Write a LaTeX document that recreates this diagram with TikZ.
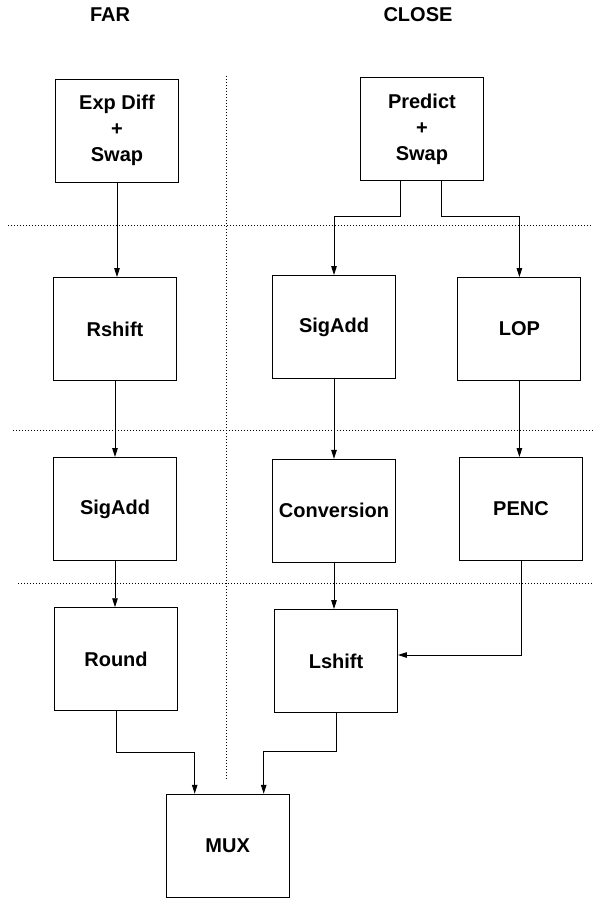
\documentclass[tikz,border=0pt]{standalone}
\usepackage{fontspec}
\setmainfont{Liberation Sans}
\usetikzlibrary{arrows.meta}
\begin{document}
\begin{tikzpicture}[
    x=1pt,y=-1pt,
    font=\fontsize{20}{26}\selectfont\bfseries,
    blk/.style={draw,line width=.9pt,minimum width=123pt,minimum height=103pt,inner sep=0pt,align=center},
    sepline/.style={line width=.8pt,dash pattern=on 1pt off 2pt},
    arr/.style={line width=.9pt,-{Triangle[length=9pt,width=5.5pt]}}
  ]
    \path[use as bounding box] (0,0) rectangle (593,898);
    \node (far) at (110,15) {FAR};
    \node (close) at (418,15) {CLOSE};
    \draw[sepline] (226,76)--(226,780);
    \draw[sepline] (8,225)--(593,225);
    \draw[sepline] (13,430.7)--(593,430.7);
    \draw[sepline] (18,583.3)--(593,583.3);
    \node[blk] (expd) at (117,130.8) {Exp Diff\\+\\Swap};
    \node[blk] (pred) at (421.9,129) {Predict\\+\\Swap};
    \node[blk] (rsh) at (115,329) {Rshift};
    \node[blk] (sadc) at (334,327) {SigAdd};
    \node[blk] (lop) at (519.4,329) {LOP};
    \node[blk] (sadf) at (115,509) {SigAdd};
    \node[blk] (conv) at (334,510.8) {Conversion};
    \node[blk] (penc) at (521,509) {PENC};
    \node[blk] (rnd) at (116,659.2) {Round};
    \node[blk] (lsh) at (336,661) {Lshift};
    \node[blk] (mux) at (227.7,845.7) {MUX};
    \draw[arr] (expd.south)--(expd.south|-rsh.north);
    \draw[arr] ([xshift=-21pt]pred.south)--++(0,35)-|(sadc.north);
    \draw[arr] ([xshift=20pt]pred.south)--++(0,35)-|(lop.north);
    \draw[arr] (rsh.south)--(rsh.south|-sadf.north);
    \draw[arr] (sadc.south)--(sadc.south|-conv.north);
    \draw[arr] (lop.south)--(lop.south|-penc.north);
    \draw[arr] (sadf.south)--(sadf.south|-rnd.north);
    \draw[arr] (conv.south)--(conv.south|-lsh.north);
    \draw[arr] (penc.south)|-([yshift=6pt]lsh.east);
    \draw[arr] (rnd.south)--++(0,41)-|([xshift=-33pt]mux.north);
    \draw[arr] (lsh.south)--++(0,38)-|([xshift=36pt]mux.north);
  \end{tikzpicture}
\end{document}
